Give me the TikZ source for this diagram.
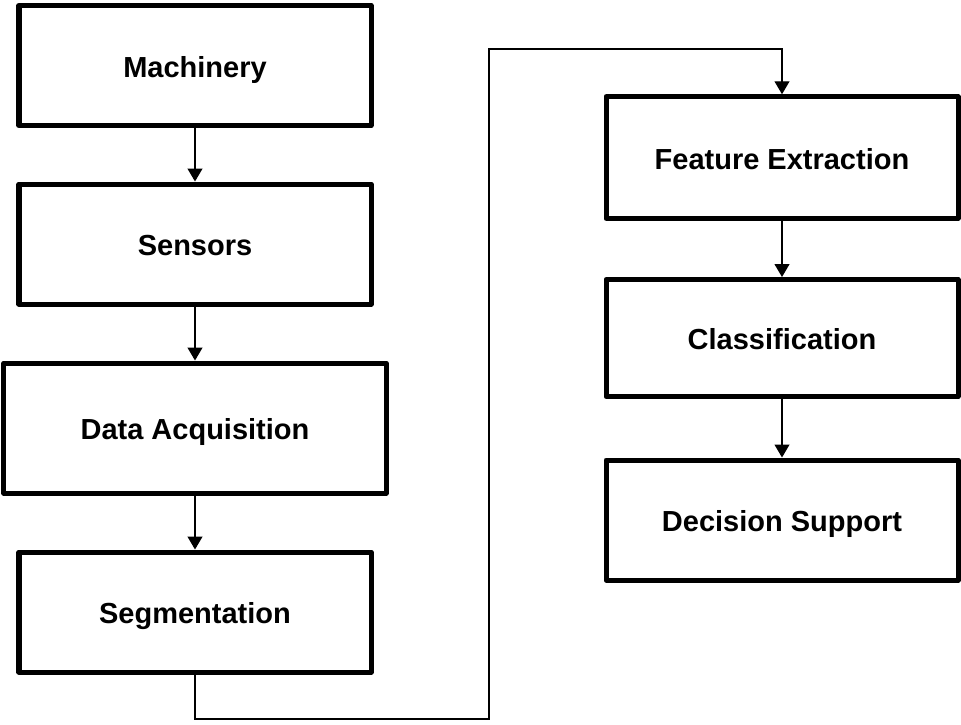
\documentclass[tikz,border=0pt]{standalone}
\usepackage{fontspec}
\setmainfont{Liberation Sans}
\usetikzlibrary{arrows.meta}
\tikzset{
    box/.style={draw, line width=0.1cm, line join=round, minimum width=7.04cm, minimum height=2.4cm, inner sep=0pt, text height=0.472cm, text depth=0pt, font=\fontsize{16.5}{20}\selectfont\bfseries},
    arr/.style={line width=0.8pt, -{Triangle[width=8.5pt,length=7.4pt]}}
}
\begin{document}
\begin{tikzpicture}
    \useasboundingbox (0,0) rectangle (19.22,-14.48);
    %Left column
    \node[box] (mach) at (3.9,-1.31) {Machinery};
    \node[box] (sens) at (3.9,-4.88) {Sensors};
    \node[box, minimum width=7.64cm, minimum height=2.6cm] (daq) at (3.9,-8.56) {Data Acquisition};
    \node[box] (seg) at (3.9,-12.24) {Segmentation};
    %Right column
    \node[box, minimum height=2.43cm] (feat) at (15.64,-3.15) {Feature Extraction};
    \node[box, minimum height=2.34cm] (cls) at (15.64,-6.76) {Classification};
    \node[box] (dec) at (15.64,-10.4) {Decision Support};
    %Links
    \draw[arr] (mach) -- (sens);
    \draw[arr] (sens) -- (daq);
    \draw[arr] (daq) -- (seg);
    \draw[arr] (feat) -- (cls);
    \draw[arr] (cls) -- (dec);
    %Crossover
    \coordinate (low) at (9.78,-14.38);
    \coordinate (high) at (9.78,-0.98);
    \draw[arr] (seg.south) |- (low) -- (high) -| (feat.north);
\end{tikzpicture}
\end{document}
